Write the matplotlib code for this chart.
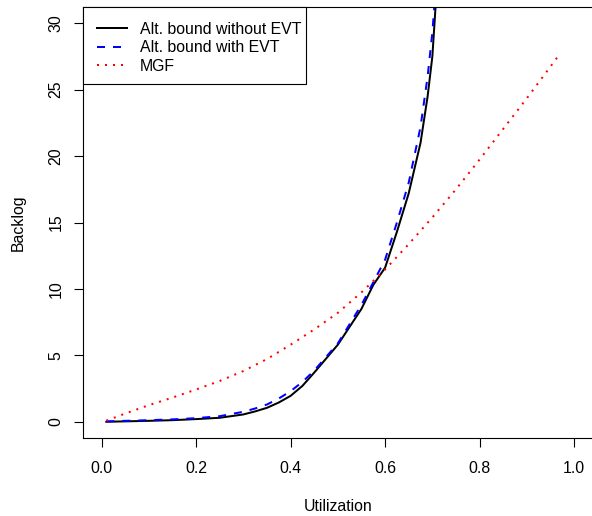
import matplotlib
matplotlib.use('Agg')
import matplotlib.pyplot as plt
from matplotlib.patches import Rectangle

plt.rcParams['font.family'] = ['Liberation Sans', 'DejaVu Sans']

# values
util_alt = [0.01, 0.05, 0.10, 0.15, 0.20, 0.25, 0.30, 0.325, 0.35, 0.375, 0.40,
            0.425, 0.45, 0.50, 0.55, 0.575, 0.60, 0.625, 0.65, 0.675, 0.69,
            0.70, 0.71]
alt_no_evt = [0.0, 0.03, 0.07, 0.12, 0.2, 0.3, 0.55, 0.78, 1.05, 1.45, 1.95,
              2.7, 3.7, 5.8, 8.5, 10.3, 11.6, 14.3, 17.2, 21.0, 24.5,
              27.5, 33.0]
alt_evt = [0.03, 0.07, 0.12, 0.18, 0.27, 0.42, 0.75, 1.0, 1.3, 1.75, 2.3,
           3.0, 3.85, 5.9, 8.8, 10.5, 12.2, 15.0, 18.0, 22.2, 26.0,
           29.3, 34.0]

util_mgf = [0.01, 0.05, 0.10, 0.15, 0.20, 0.25, 0.30, 0.35, 0.40, 0.45, 0.50,
            0.55, 0.60, 0.65, 0.70, 0.75, 0.80, 0.85, 0.90, 0.95, 0.97]
mgf = [0.08, 0.62, 1.25, 1.82, 2.43, 3.07, 3.82, 4.72, 5.8, 6.95, 8.2,
       9.74, 11.46, 13.37, 15.38, 17.5, 19.74, 22.05, 24.35, 26.74, 27.7]

xticks = [0.0, 0.2, 0.4, 0.6, 0.8, 1.0]
yticks = [0, 5, 10, 15, 20, 25, 30]

W, H = 592, 516
fig = plt.figure(figsize=(W/100, H/100), dpi=100)
ax = fig.add_axes([82.7/W, (H-437.7)/H, 510.3/W, 430.4/H])

lw = 1.44
ax.plot(util_alt, alt_no_evt, color='black', lw=lw, label='Alt. bound without EVT')
ax.plot(util_alt, alt_evt, color='blue', lw=lw, ls=(0, (4, 4)), label='Alt. bound with EVT')
ax.plot(util_mgf, mgf, color='red', lw=lw, ls=(0, (1, 3)), label='MGF')

ax.set_xlim(-0.04, 1.04)
ax.set_ylim(-1.2, 31.2)
ax.set_xticks(xticks)
ax.set_yticks(yticks)
ax.set_xticklabels(['%.1f' % t for t in xticks])
ax.set_yticklabels([str(t) for t in yticks], rotation=90, va='center')
ax.tick_params(length=6.5, width=0.8, pad=10, labelsize=11.4)
ax.tick_params(axis='y', pad=7.5)
for s in ['top', 'left', 'bottom']:
    ax.spines[s].set_linewidth(0.8)
ax.spines['right'].set_visible(False)

ax.set_xlabel('Utilization', fontsize=11.4, va='baseline')
ax.xaxis.set_label_coords(0.5, -0.1694)
ax.set_ylabel('Backlog', fontsize=11.4, va='center')
ax.yaxis.set_label_coords(-0.1268, 0.5)

# legend box
ax.add_patch(Rectangle((0, 0.8218), 0.4376, 0.1782, transform=ax.transAxes,
                       facecolor='white', edgecolor='black', lw=0.8, zorder=3,
                       clip_on=False))
leg = ax.legend(loc='upper left', bbox_to_anchor=(0.028, 0.9665), frameon=False,
                borderaxespad=0, borderpad=0, fontsize=11.4, handlelength=1.9,
                handletextpad=0.82, labelspacing=0.22)
leg.set_zorder(4)

fig.savefig('out.png', dpi=100)
